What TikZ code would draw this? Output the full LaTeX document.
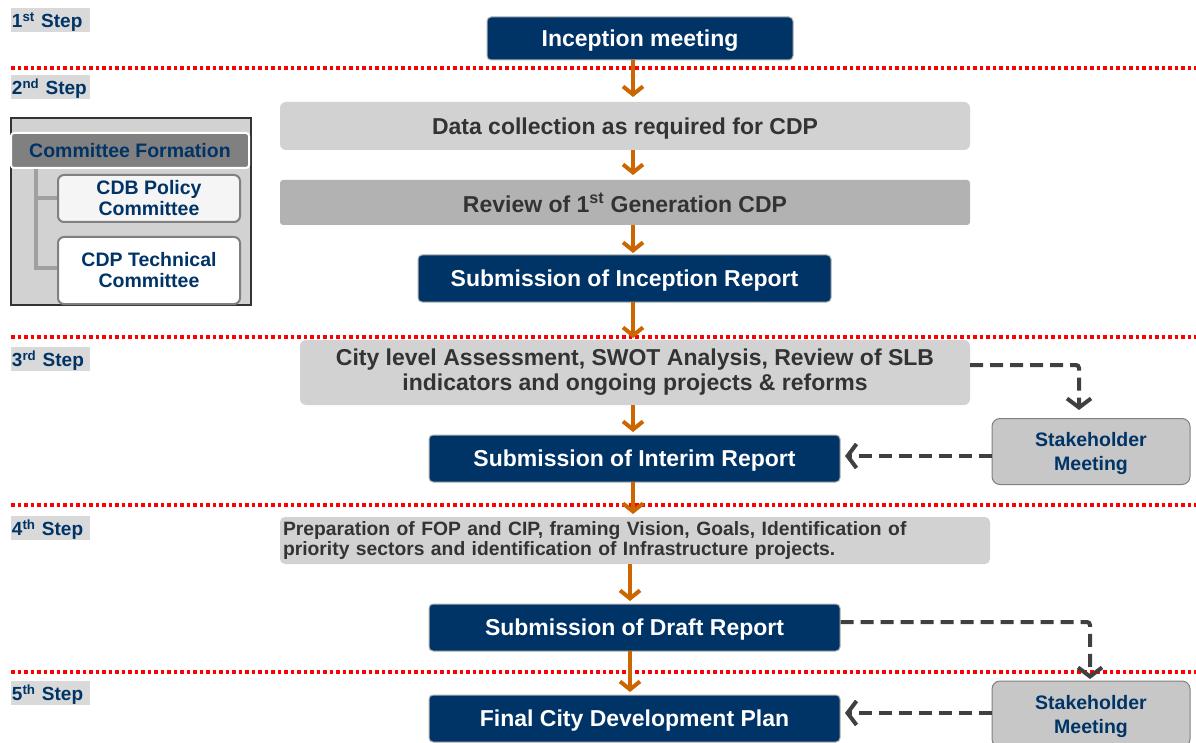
\documentclass[tikz,border=0pt]{standalone}
\usepackage{fontspec}
\setmainfont{Liberation Sans}
\usetikzlibrary{arrows.meta}
\definecolor{dblue}{RGB}{0,51,102}
\definecolor{lgray}{RGB}{210,210,210}
\definecolor{mgray}{RGB}{178,178,178}
\definecolor{txtgray}{RGB}{51,51,51}
\definecolor{orng}{RGB}{204,102,0}
\definecolor{dgray}{RGB}{64,64,64}
\definecolor{hdrgray}{RGB}{128,128,128}
\begin{document}
\begin{tikzpicture}[x=1pt,y=-1pt,
  every node/.style={font=\bfseries, inner sep=0pt},
  bluebox/.style={fill=dblue, draw=gray!60, line width=1pt, rounded corners=4pt, text=white, text depth=0pt, font=\bfseries\fontsize{23}{26}\selectfont},
  graybox/.style={fill=lgray, rounded corners=6pt, text=txtgray, font=\bfseries\fontsize{23}{25}\selectfont, align=center},
  stepl/.style={fill=lgray!85, text=dblue, text depth=0pt, font=\bfseries\fontsize{19}{20}\selectfont, minimum width=79pt, minimum height=24pt, text width=77pt, align=left},
  redsep/.style={red, line width=3.5pt, dash pattern=on 3.5pt off 3pt},
  flowarr/.style={orng, line width=4pt, -{Straight Barb[length=8pt,width=20pt]}},
  dasharr/.style={dgray, line width=4pt, dash pattern=on 13pt off 7pt, rounded corners=3pt, -{Straight Barb[length=9pt,width=24pt]}},
  stake/.style={fill=lgray!95!black, draw=gray, line width=1pt, rounded corners=8pt, text=dblue, text depth=0pt, font=\bfseries\fontsize{19.5}{24}\selectfont, align=center, minimum width=198pt, minimum height=66pt},
  subbox/.style={fill=white!96!black, draw=hdrgray, line width=2pt, rounded corners=6pt, text=dblue, font=\bfseries\fontsize{19.5}{21}\selectfont, align=center, minimum width=182pt}
]
\useasboundingbox (0,0) rectangle (1196,743);
\fill[white] (0,0) rectangle (1196,743);

% step labels
\node[stepl] (s1) at (50.5,20) {1\textsuperscript{st} Step};
\node[stepl] (s2) at (50.5,87) {2\textsuperscript{nd} Step};
\node[stepl] (s3) at (50.5,359) {3\textsuperscript{rd} Step};
\node[stepl] (s4) at (50.5,528) {4\textsuperscript{th} Step};
\node[stepl] (s5) at (50.5,693) {5\textsuperscript{th} Step};

% separators
\coordinate (r1a) at (11,68); \coordinate (r1b) at (1196,68);
\coordinate (r2a) at (11,337); \coordinate (r2b) at (1196,337);
\coordinate (r3a) at (11,505); \coordinate (r3b) at (1196,505);
\coordinate (r4a) at (11,672); \coordinate (r4b) at (1196,672);
\draw[redsep] (r1a) -- (r1b);
\draw[redsep] (r2a) -- (r2b);
\draw[redsep] (r3a) -- (r3b);
\draw[redsep] (r4a) -- (r4b);

% main flow
\node[bluebox, minimum width=306pt, minimum height=43pt] (inc) at (640,38.5) {Inception meeting};
\node[graybox, text depth=0pt, minimum width=690pt, minimum height=48pt] (data) at (625,126) {Data collection as required for CDP};
\node[graybox, text depth=0pt, fill=mgray, rounded corners=3pt, minimum width=690pt, minimum height=45pt] (rev) at (625,202.5) {Review of 1\textsuperscript{st} Generation CDP};
\node[bluebox, minimum width=413pt, minimum height=47pt] (increp) at (624.5,278.5) {Submission of Inception Report};
\node[graybox, minimum width=670pt, minimum height=65pt] (city) at (635,372.5) {City level Assessment, SWOT Analysis, Review of SLB\\indicators and ongoing projects \& reforms};
\node[bluebox, minimum width=411pt, minimum height=47pt] (interim) at (634.5,458.5) {Submission of Interim Report};
\node[graybox, rounded corners=5pt, minimum width=710pt, minimum height=47pt, text width=704pt, align=left, font=\bfseries\fontsize{19.3}{20}\selectfont] (prep) at (635,540.5) {Preparation of FOP and CIP, framing Vision, Goals, Identification of\\priority sectors and identification of Infrastructure projects.};
\node[bluebox, minimum width=411pt, minimum height=47pt] (draft) at (634.5,627.5) {Submission of Draft Report};
\node[bluebox, minimum width=411pt, minimum height=47pt] (final) at (634.5,718.5) {Final City Development Plan};

\draw[flowarr] (633,60) -- (633,97);
\draw[flowarr] (633,150) -- (633,175);
\draw[flowarr] (633,225) -- (633,253);
\draw[flowarr] (633,302) -- (633,338);
\draw[flowarr] (633,405) -- (633,432);
\draw[flowarr] (633,482) -- (633,514);
\draw[flowarr] (630,564) -- (630,601);
\draw[flowarr] (630,651) -- (630,692);

% stakeholder meetings
\node[stake] (sm1) at (1091,451.5) {Stakeholder\\Meeting};
\node[stake] (sm2) at (1091,714) {Stakeholder\\Meeting};

\draw[dasharr] (city.east |- 0,365) -- (1079,365) -- (1079,410);
\draw[dasharr] (sm1.west |- 0,456) -- (845,456);
\draw[dasharr] (draft.east |- 0,622) -- (1090,622) -- (1090,679);
\draw[dasharr] (sm2.west |- 0,713) -- (845,713);

% committee box
\node[fill=lgray, draw=txtgray, line width=2.5pt, minimum width=240pt, minimum height=187pt] (comm) at (131,211.5) {};
\coordinate (cl0) at (36,168);
\coordinate (cl1) at (58,198);
\coordinate (cl2) at (58,268);
\draw[gray!60!lgray, line width=4pt] (cl0) -- (cl0 |- cl2) -- (cl2);
\draw[gray!60!lgray, line width=4pt] (cl0 |- cl1) -- (cl1);
\node[fill=hdrgray, draw=white, line width=2pt, rounded corners=3pt, minimum width=238pt, minimum height=35pt, text=dblue, font=\bfseries\fontsize{19.5}{20}\selectfont] (hdr) at (130,150.5) {Committee Formation};
\node[subbox, minimum height=47pt] (cdb) at (149,198.5) {CDB Policy\\Committee};
\node[subbox, fill=white, minimum height=67pt] (cdp) at (149,270.5) {CDP Technical\\Committee};
\end{tikzpicture}
\end{document}
